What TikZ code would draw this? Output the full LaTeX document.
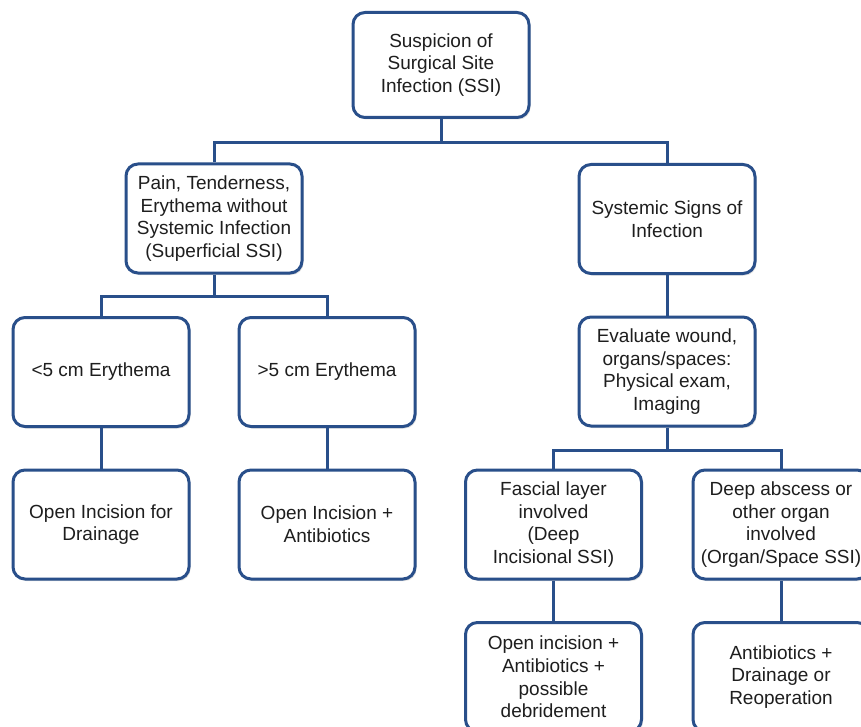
\documentclass[tikz,border=0pt]{standalone}
\usepackage{fontspec}
\setmainfont{Liberation Sans}
\usetikzlibrary{shadows}
\definecolor{boxblue}{RGB}{41,79,138}
\definecolor{txtgray}{RGB}{30,30,30}
\begin{document}
\begin{tikzpicture}[x=1pt,y=-1pt,
  flowbox/.style={draw=boxblue, line width=3pt, rounded corners=12pt, fill=white,
    minimum width=176pt, minimum height=109pt, align=center, inner sep=2pt,
    text=txtgray, font=\fontsize{19pt}{22.7pt}\selectfont,
    drop shadow={shadow xshift=1.5pt, shadow yshift=-2pt, opacity=0.25, fill=gray}},
  link/.style={draw=boxblue, line width=3pt}]
\useasboundingbox (0,0) rectangle (861,727);
\clip (0,0) rectangle (861,727);
\fill[white] (0,0) rectangle (861,727);
% junctions
\coordinate (j1) at (441,143);
\coordinate (j2) at (214,296);
\coordinate (j3) at (667,450);
% nodes
\node[flowbox, minimum height=105pt] (top) at (441,65) {Suspicion of\\Surgical Site\\Infection (SSI)};
\node[flowbox] (sup) at (214,218.5) {Pain, Tenderness,\\Erythema without\\Systemic Infection\\(Superficial SSI)};
\node[flowbox] (sys) at (667,219) {Systemic Signs of\\Infection};
\node[flowbox] (lt5) at (101,372) {<5 cm Erythema};
\node[flowbox] (gt5) at (327,372) {>5 cm Erythema};
\node[flowbox] (eval) at (667,371.5) {Evaluate wound,\\organs/spaces:\\Physical exam,\\Imaging};
\node[flowbox] (drain) at (101,524.5) {Open Incision for\\Drainage};
\node[flowbox] (antib) at (327,524.5) {Open Incision +\\Antibiotics};
\node[flowbox] (fasc) at (553.5,524.5) {Fascial layer\\involved\\(Deep\\Incisional SSI)};
\node[flowbox] (deep) at (781,524.5) {Deep abscess or\\other organ\\involved\\(Organ/Space SSI)};
\node[flowbox] (debr) at (553.5,677) {Open incision +\\Antibiotics +\\possible\\debridement};
\node[flowbox] (reop) at (781,677) {Antibiotics +\\Drainage or\\Reoperation};
% connectors
\draw[link] (top.south) -- (j1);
\draw[link] (sup.north) |- (j1) -| (sys.north);
\draw[link] (sup.south) -- (j2);
\draw[link] (lt5.north) |- (j2) -| (gt5.north);
\draw[link] (lt5.south) -- (drain.north);
\draw[link] (gt5.south) -- (antib.north);
\draw[link] (sys.south) -- (eval.north);
\draw[link] (eval.south) -- (j3);
\draw[link] (fasc.north) |- (j3) -| (deep.north);
\draw[link] (fasc.south) -- (debr.north);
\draw[link] (deep.south) -- (reop.north);
\end{tikzpicture}
\end{document}
